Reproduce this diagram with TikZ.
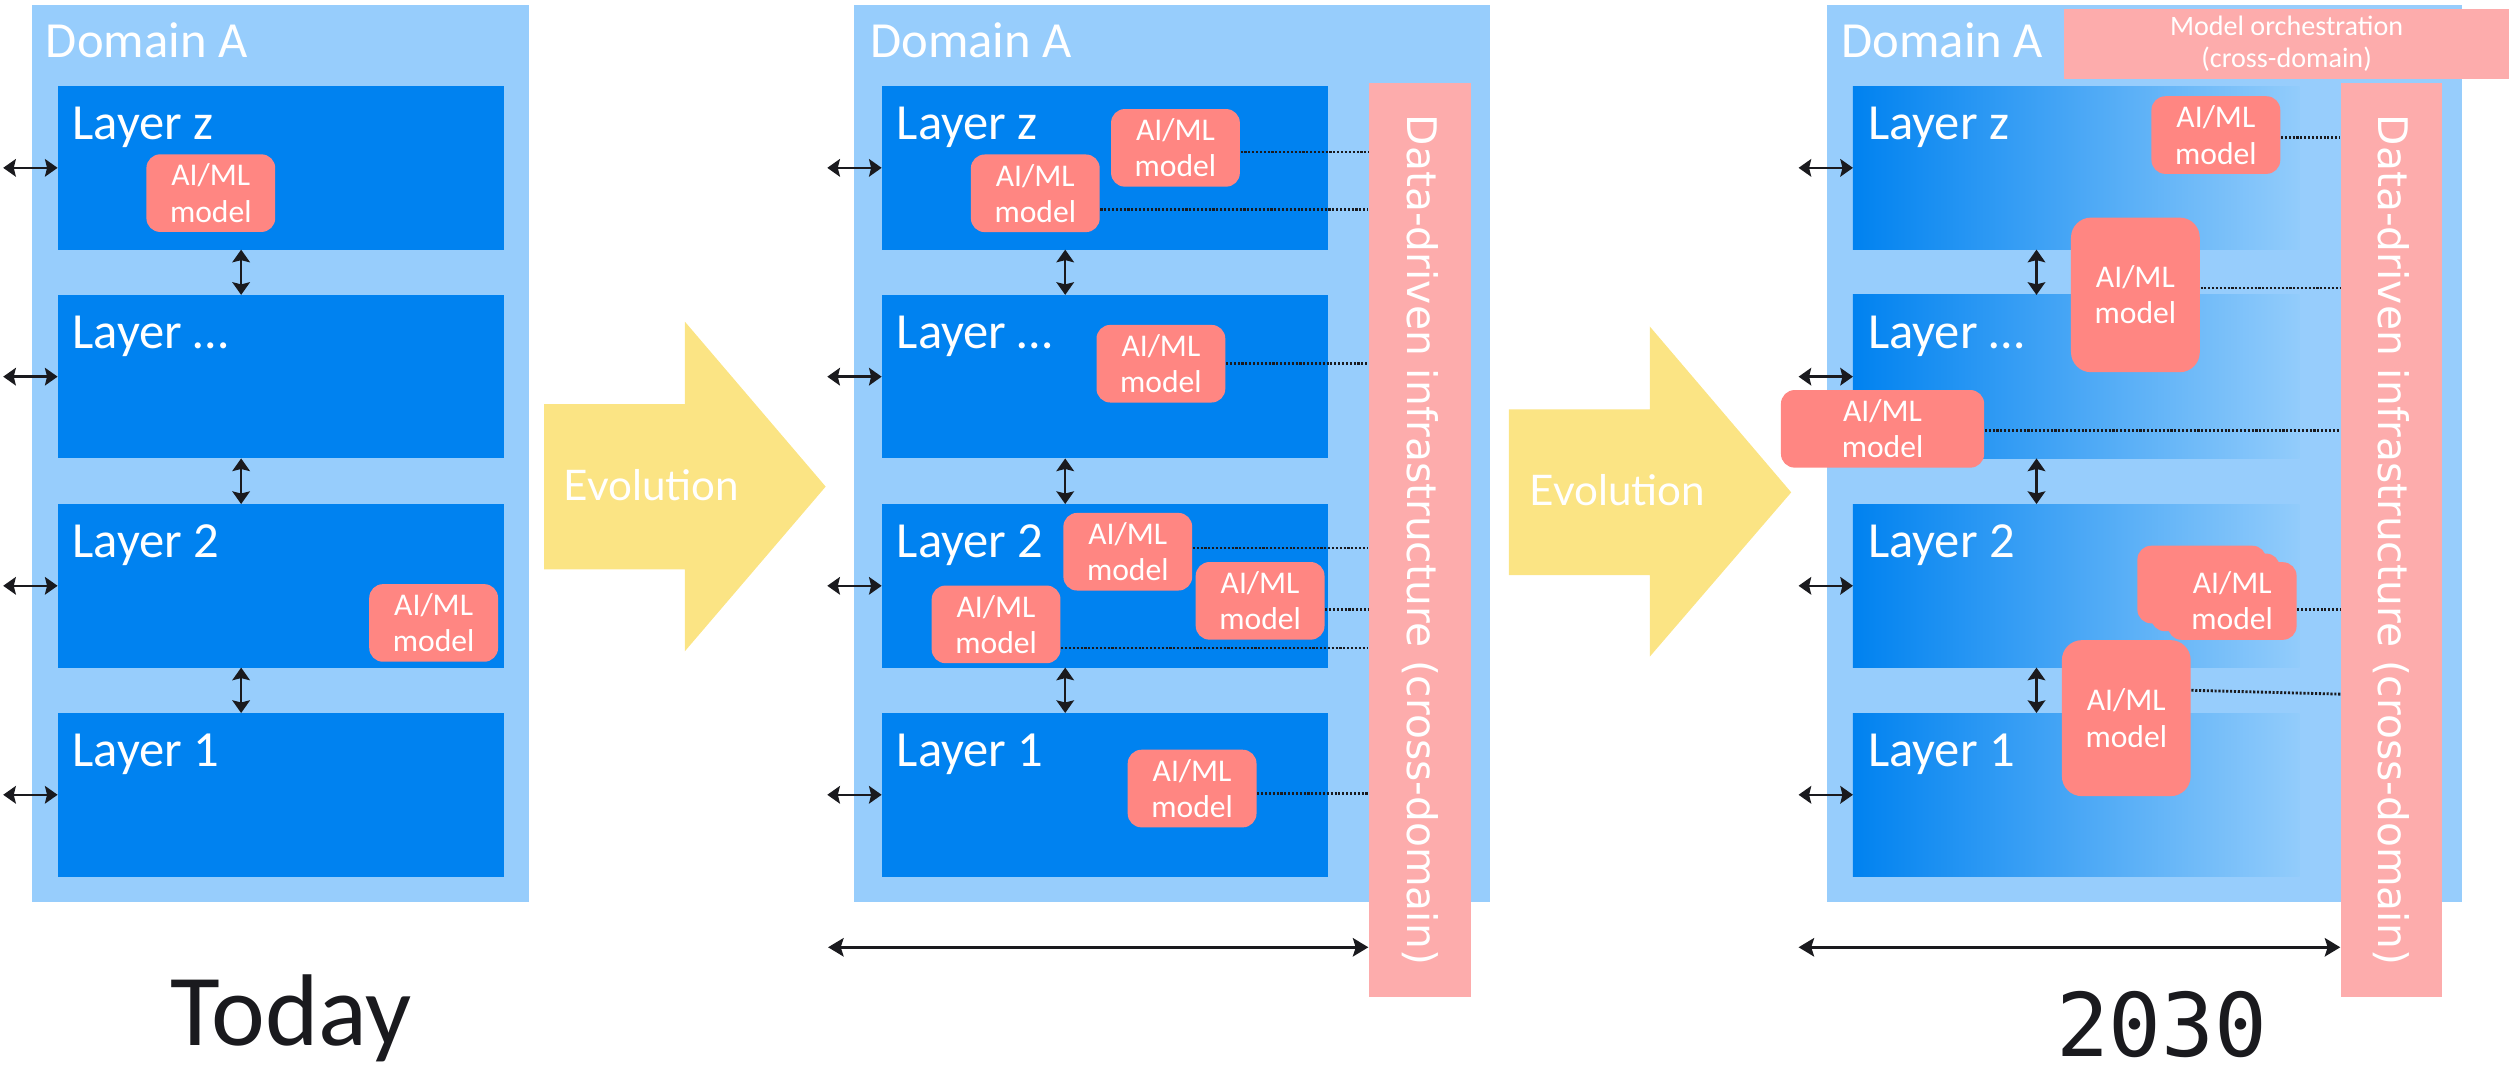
\documentclass[tikz,border=0pt]{standalone}
\usepackage{fontspec}
\setmainfont{Carlito}
\newfontfamily\evofont{Lato}
\newfontfamily\infrafont{DejaVu Sans}
\newfontfamily\yearfont[RawFeature=+zero]{DejaVu Sans Mono}
\usetikzlibrary{arrows.meta,calc}

\definecolor{domainblue}{RGB}{151,205,252}
\definecolor{layerblue}{RGB}{0,130,240}
\definecolor{fademid}{RGB}{96,183,248}
\definecolor{fadeend}{RGB}{146,204,251}
\definecolor{modelred}{RGB}{255,134,130}
\definecolor{infrapink}{RGB}{253,172,172}
\definecolor{evoyellow}{RGB}{251,228,132}
\definecolor{linkblack}{RGB}{26,26,30}

\newdimen\pu
\pu=0.016cm

\tikzset{
  box/.style={anchor=north west, inner sep=0pt, outer sep=0pt},
  domainbox/.style={box, fill=domainblue, minimum height=560.4\pu},
  layer/.style={box, fill=layerblue, minimum width=279\pu, minimum height=102.2\pu},
  layerfade/.style={box, left color=layerblue, middle color=fademid, right color=fadeend,
    minimum width=279\pu, minimum height=102.2\pu},
  lbl/.style={anchor=base west, inner sep=0pt, text=white, font=\fontsize{14.4}{17}\selectfont},
  model/.style={fill=modelred, rounded corners=8.6\pu, minimum width=80.5\pu, minimum height=48.5\pu,
    inner sep=0pt, text=white, align=center, font=\fontsize{9}{10.3}\selectfont},
  infra/.style={fill=infrapink, inner sep=0pt, minimum width=63.4\pu, minimum height=571.2\pu},
  infratext/.style={rotate=-90, text=white, inner sep=0pt, font=\infrafont\fontsize{11.6}{14}\selectfont},
  biarrow/.style={{Stealth[length=3.6pt,width=5pt,inset=0.6pt]}-{Stealth[length=3.6pt,width=5pt,inset=0.6pt]},
    line width=0.7pt, draw=linkblack},
  spanarrow/.style={{Stealth[length=4.4pt,width=5.2pt,inset=0.8pt]}-{Stealth[length=4.4pt,width=5.2pt,inset=0.8pt]},
    line width=0.95pt, draw=linkblack},
  datalink/.style={draw=linkblack, line width=0.8pt, dash pattern=on 0.6pt off 0.5pt},
  evotext/.style={anchor=base west, inner sep=0pt, text=white, font=\evofont\fontsize{12}{14}\selectfont},
  year/.style={anchor=base, inner sep=0pt, text=linkblack}
}

\begin{document}
\begin{tikzpicture}[x=0.016cm, y=-0.016cm]
    \useasboundingbox (0,0) rectangle (1568,671);

    \node[domainbox, minimum width=310.5\pu] (domA) at (20,3.1) {};
    \node[domainbox, minimum width=397\pu] (domB) at (534,3.1) {};
    \node[domainbox, minimum width=396.5\pu] (domC) at (1142,3.1) {};
    \node[lbl] (domAt) at (28.3,36.2) {Domain A};
    \node[lbl] (domBt) at (543.5,36.2) {Domain A};
    \node[lbl] (domCt) at (1150.5,36.2) {Domain A};

    \foreach \pn/\px/\ls in {A/36/layer, B/551/layer, C/1158/layerfade} {
        \foreach \lid/\ly/\lt in {z/53.8/Layer z, d/184.3/Layer …, b/315/Layer 2, a/445.6/Layer 1} {
            \node[\ls] (\pn\lid) at (\px,\ly) {};
            \node[lbl] (\pn\lid t) at ($(\pn\lid.north west)+(9,33.2)$) {\lt};
            \coordinate (\pn\lid-in) at ($(\pn\lid.west)+(-34,0)$);
            \draw[biarrow] (\pn\lid-in) -- (\pn\lid.west);
        }
        \foreach \ua/\ub in {z/d, d/b, b/a}
            \draw[biarrow] ([xshift=114.7\pu]\pn\ua.south west) -- ([xshift=114.7\pu]\pn\ub.north west);
    }

    \node[model] (Az1) at (131.75,120.7) {AI/ML\\model};
    \node[model] (Ab1) at (271,389.3) {AI/ML\\model};

    \fill[evoyellow] (340,252.5) -- (428,252.5) -- (428,201) -- (516,304.1) -- (428,407)
        -- (428,355.8) -- (340,355.8) -- cycle;
    \node[evotext] (evoA) at (352,313) {Evolution};

    \node[infra] (ddB) at (887.3,337.4) {};
    \node[infratext] (ddBt) at (ddB.center) {Data-driven infrastructure (cross-domain)};

    \node[model] (Bz1) at (734.6,92.4) {AI/ML\\model};
    \node[model] (Bz2) at (647,120.8) {AI/ML\\model};
    \node[model] (Bd1) at (725.5,227.3) {AI/ML\\model};
    \node[model] (Bb1) at (704.8,344.8) {AI/ML\\model};
    \node[model] (Bb2) at (787.5,375.5) {AI/ML\\model};
    \node[model] (Bb3) at (622.5,390.2) {AI/ML\\model};
    \node[model] (Ba1) at (745,492.8) {AI/ML\\model};

    \draw[datalink] (Bz1.east |- 0,95) -- (ddB.west |- 0,95);
    \draw[datalink] (Bz2.east |- 0,131) -- (ddB.west |- 0,131);
    \draw[datalink] (Bd1.east |- 0,227) -- (ddB.west |- 0,227);
    \draw[datalink] (Bb1.east |- 0,342.5) -- (ddB.west |- 0,342.5);
    \draw[datalink] (Bb2.east |- 0,381) -- (ddB.west |- 0,381);
    \draw[datalink] (Bb3.east |- 0,405) -- (ddB.west |- 0,405);
    \draw[datalink] (Ba1.east |- 0,496) -- (ddB.west |- 0,496);

    \coordinate (spanB) at (517.5,592);
    \draw[spanarrow] (spanB) -- (spanB -| ddB.west);

    \fill[evoyellow] (943,255.8) -- (1031,255.8) -- (1031,204) -- (1119.4,307.7) -- (1031,410.4)
        -- (1031,359.4) -- (943,359.4) -- cycle;
    \node[evotext] (evoB) at (955.7,316) {Evolution};

    \node[infra, minimum width=63\pu] (ddC) at (1494.5,337.4) {};
    \node[infratext] (ddCt) at (ddC.center) {Data-driven infrastructure (cross-domain)};
    \node[fill=infrapink, inner sep=0pt, minimum width=278\pu, minimum height=43.9\pu, align=center,
        text=white, font=\fontsize{8}{9.15}\selectfont] (orch) at (1429,27.55)
        {Model orchestration\\(cross-domain)};

    \node[model] (Cz1) at (1384.8,84.4) {AI/ML\\model};
    \node[model, minimum height=96.6\pu, rounded corners=12.5\pu] (Czd) at (1334.5,184.3) {AI/ML\\model};
    \node[model, minimum width=127\pu] (Cd1) at (1176.5,268) {AI/ML\\model};
    \node[model] (Cb3) at (1376,365.3) {};
    \node[model] (Cb2) at (1384.5,370.2) {};
    \node[model] (Cb1) at (1395,375.6) {AI/ML\\model};
    \node[model, minimum height=97.5\pu, rounded corners=12.5\pu] (Cba) at (1328.8,448.8) {AI/ML\\model};

    \draw[datalink] (Cz1.east |- 0,86) -- (ddC.west |- 0,86);
    \draw[datalink] (Czd.east |- 0,180) -- (ddC.west |- 0,180);
    \draw[datalink] (Cd1.east |- 0,269) -- (ddC.west |- 0,269);
    \draw[datalink] (Cb1.east |- 0,381) -- (ddC.west |- 0,381);
    \draw[datalink] (Cba.east |- 0,431.4) -- (ddC.west |- 0,433.8);

    \coordinate (spanC) at (1124,592);
    \draw[spanarrow] (spanC) -- (spanC -| ddC.west);

    \node[year, font=\fontsize{29}{34}\selectfont] (today) at (182,653.5) {Today};
    \node[year, font=\yearfont\fontsize{25}{30}\selectfont] (future) at (1351,660) {2030};
\end{tikzpicture}
\end{document}
